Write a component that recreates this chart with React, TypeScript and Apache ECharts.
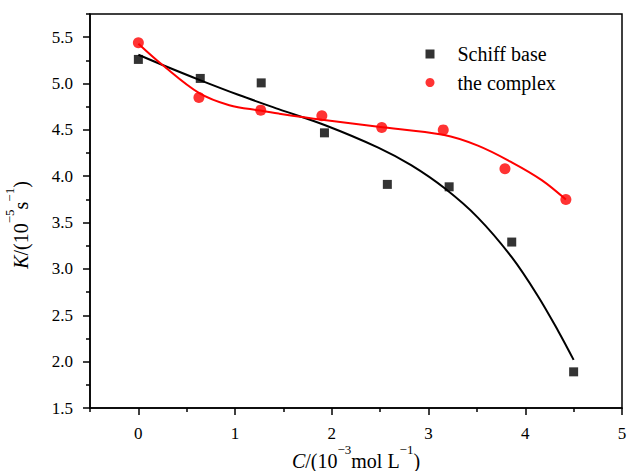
import React, { useEffect, useRef } from "react";
import * as echarts from "echarts";

// Measured points
const schiffX = [0, 0.64, 1.27, 1.924, 2.574, 3.213, 3.86, 4.5];
const schiffY = [5.26, 5.055, 5.007, 4.468, 3.912, 3.886, 3.29, 1.89];
const complexX = [0, 0.626, 1.265, 1.897, 2.516, 3.152, 3.79, 4.42];
const complexY = [5.44, 4.85, 4.713, 4.652, 4.526, 4.5, 4.08, 3.75];

// Fitted curves
const schiffFitX = [0, 0.25, 0.63, 1.04, 1.45, 1.925, 2.48, 2.82, 3.17, 3.51, 3.86, 4.13, 4.34, 4.5];
const schiffFitY = [5.31, 5.2, 5.04, 4.876, 4.724, 4.553, 4.309, 4.119, 3.867, 3.554, 3.127, 2.709, 2.331, 2.019];
const complexFitX = [0, 0.25, 0.63, 0.94, 1.26, 1.45, 1.9, 2.48, 3.15, 3.51, 3.86, 4.17, 4.42];
const complexFitY = [5.43, 5.2, 4.896, 4.766, 4.708, 4.676, 4.609, 4.534, 4.447, 4.33, 4.15, 3.958, 3.748];

// Ticks
const xMajorTicks = [0, 1, 2, 3, 4, 5];
const xMinorTicks = [-0.5, 0.5, 1.5, 2.5, 3.5, 4.5];
const yMajorTicks = [1.5, 2.0, 2.5, 3.0, 3.5, 4.0, 4.5, 5.0, 5.5];
const yMinorTicks = [1.75, 2.25, 2.75, 3.25, 3.75, 4.25, 4.75, 5.25, 5.75];

const FONT = "'Liberation Serif', 'Times New Roman', Times, serif";

const zip = (xs: number[], ys: number[]) => xs.map((x, i) => [x, ys[i]]);

export default function App() {
  const ref = useRef<HTMLDivElement>(null);
  useEffect(() => {
    if (!ref.current) return;
    const chart = echarts.init(ref.current, undefined, { renderer: "svg" });
    const axisLineStyle = { color: "#000", width: 1.5 };
    const nameRich = {
      i: { fontStyle: "italic", fontSize: 20, fontFamily: FONT, color: "#000", lineHeight: 20, verticalAlign: "bottom" },
      n: { fontSize: 20, fontFamily: FONT, color: "#000", lineHeight: 20, verticalAlign: "bottom" },
      sup: { fontSize: 13, fontFamily: FONT, color: "#000", verticalAlign: "top", padding: [0, 0, 15, 0] },
    };
    chart.setOption({
      animation: false,
      backgroundColor: "#fff",
      grid: {
        left: 90,
        right: 5,
        top: 14,
        bottom: 63,
        outerBoundsMode: "none",
        containLabel: false,
        show: true,
        borderColor: "#000",
        borderWidth: 1.5,
      },
      legend: {
        orient: "vertical",
        left: 425.5,
        top: 44,
        padding: 0,
        itemWidth: 9,
        itemHeight: 9,
        itemGap: 8.5,
        data: [
          { name: "Schiff base", icon: "rect" },
          { name: "the complex", icon: "circle" },
        ],
        textStyle: {
          fontFamily: FONT,
          fontSize: 20,
          lineHeight: 20,
          color: "#000",
          padding: [0, 0, 0, 18],
        },
      },
      xAxis: [
        {
          type: "value",
          min: -0.5,
          max: 5,
          interval: 0.5,
          position: "bottom",
          name: "{i|C}{n|/(10}{sup|−3}{n|mol L}{sup|−1}{n|)}",
          nameLocation: "middle",
          nameGap: 35,
          nameMoveOverlap: false,
          nameTextStyle: { rich: nameRich },
          axisLine: { show: true, onZero: false, lineStyle: axisLineStyle },
          axisTick: { show: true, length: 7, customValues: xMajorTicks, lineStyle: axisLineStyle },
          axisLabel: {
            customValues: xMajorTicks,
            fontFamily: FONT,
            fontSize: 17,
            color: "#000",
            margin: 17,
          },
          splitLine: { show: false },
        },
        {
          type: "value",
          min: -0.5,
          max: 5,
          interval: 0.5,
          position: "bottom",
          axisLine: { show: false, onZero: false },
          axisTick: { show: true, length: 4, customValues: xMinorTicks, lineStyle: axisLineStyle },
          axisLabel: { show: false },
          splitLine: { show: false },
        },
      ],
      yAxis: [
        {
          type: "value",
          min: 1.5,
          max: 5.75,
          interval: 0.25,
          position: "left",
          name: "{i|K}{n|/(10}{sup|−5}{n|s}{sup|−1}{n|)}",
          nameLocation: "middle",
          nameRotate: 90,
          nameGap: 59,
          nameMoveOverlap: false,
          nameTextStyle: { rich: nameRich, padding: [0, 28, 0, 0] },
          axisLine: { show: true, onZero: false, lineStyle: axisLineStyle },
          axisTick: { show: true, length: 7, customValues: yMajorTicks, lineStyle: axisLineStyle },
          axisLabel: {
            customValues: yMajorTicks,
            formatter: (v: number) => v.toFixed(1),
            fontFamily: FONT,
            fontSize: 17,
            color: "#000",
            margin: 17,
          },
          splitLine: { show: false },
        },
        {
          type: "value",
          min: 1.5,
          max: 5.75,
          interval: 0.25,
          position: "left",
          axisLine: { show: false, onZero: false },
          axisTick: { show: true, length: 4, customValues: yMinorTicks, lineStyle: axisLineStyle },
          axisLabel: { show: false },
          splitLine: { show: false },
        },
      ],
      series: [
        {
          name: "Schiff base fit",
          type: "line",
          data: zip(schiffFitX, schiffFitY),
          smooth: 0.35,
          showSymbol: false,
          lineStyle: { color: "#000", width: 2 },
          z: 2,
        },
        {
          name: "the complex fit",
          type: "line",
          data: zip(complexFitX, complexFitY),
          smooth: 0.35,
          showSymbol: false,
          lineStyle: { color: "#ff0000", width: 2 },
          z: 2,
        },
        {
          name: "Schiff base",
          type: "scatter",
          symbol: "rect",
          symbolSize: 9,
          data: zip(schiffX, schiffY),
          itemStyle: { color: "#000" },
          z: 3,
        },
        {
          name: "the complex",
          type: "scatter",
          symbol: "circle",
          symbolSize: 11,
          data: zip(complexX, complexY),
          itemStyle: { color: "#ff0000" },
          z: 3,
        },
      ],
    });
    return () => chart.dispose();
  }, []);
  return <div ref={ref} style={{ width: 627, height: 471, position: "absolute", left: 0, top: 0 }} />;
}
